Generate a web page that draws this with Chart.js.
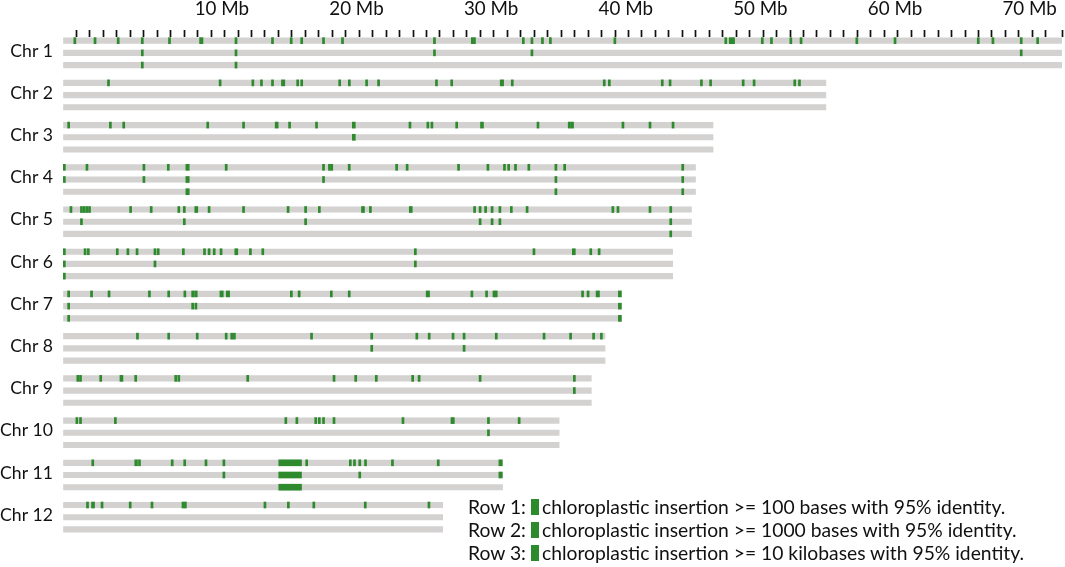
<!DOCTYPE html>
<html lang="en">

<head>
    <meta charset="UTF-8">
    <title>Chloroplastic insertions</title>
    <script src="https://cdn.jsdelivr.net/npm/chart.js"></script>
    <style>
        body { margin: 0; background: #fff; }
        #wrap { position: relative; width: 1065px; height: 567px; }
        .key { position: absolute; font: 19.3px Lato, sans-serif; color: #111; white-space: nowrap; line-height: 23px; }
        .box { position: absolute; width: 8px; height: 16px; background: #2d8a2d; }
    </style>
</head>

<body>
    <div id="wrap">
        <canvas id="genome"></canvas>
        <div id="legend"></div>
    </div>
    <script>
        const chrNames = ['Chr 1', 'Chr 2', 'Chr 3', 'Chr 4', 'Chr 5', 'Chr 6', 'Chr 7', 'Chr 8', 'Chr 9', 'Chr 10', 'Chr 11', 'Chr 12'];
        const chrLengths = [74.2, 56.66, 48.28, 46.98, 46.68, 45.28, 41.5, 40.26, 39.24, 36.85, 32.65, 28.2]; // Mb
        const rowNames = ['Row 1:', 'Row 2:', 'Row 3:'];
        const rowTexts = [
            'chloroplastic insertion >= 100 bases with 95% identity.',
            'chloroplastic insertion >= 1000 bases with 95% identity.',
            'chloroplastic insertion >= 10 kilobases with 95% identity.'
        ];

        // insertion positions in Mb; [pos, size] when the mark is wider than a hairline
        const row1 = [
            [0.88, 2.38, 4.10, 5.89, 7.91, [10.27, 0.25], 12.85, 15.56, 16.95, 17.73, 19.35, 20.76, 27.59, 30.40, 30.56, 34.19, 34.83, 35.61, 36.20, 40.99, 49.23, [49.68, 0.4], 51.94, 52.62, 54.06, 54.82, 58.96, 61.80, 67.98, 69.07, 71.17, 72.39],
            [3.38, 11.67, 14.10, 14.74, 15.56, [16.35, 0.25], 17.43, 17.73, 20.55, 21.27, 22.55, 23.44, 27.74, 28.87, [32.60, 0.25], 33.37, 40.20, 40.58, 44.51, 45.09, 47.42, 48.10, 50.52, 51.33, 54.35, 54.70],
            [0.42, 3.52, 4.51, 10.75, 13.41, [15.87, 0.22], 16.83, 18.83, [21.60, 0.22], 25.77, 27.10, 27.40, 29.24, [31.12, 0.22], 35.28, 37.60, [37.81, 0.22], 41.59, 43.60, 45.31],
            [0.1, 1.78, 6.01, 7.82, [9.25, 0.25], 12.12, 19.35, 19.79, 19.96, 21.26, 24.78, 25.56, 29.38, 31.56, 32.79, 33.10, 33.61, 34.60, 36.61, 37.26, 46.03],
            [0.59, 1.37, 1.57, 1.77, 1.97, 5.02, 6.55, 8.60, 9.01, [9.90, 0.22], 10.85, 13.41, 16.72, 18.02, 19.04, [22.28, 0.22], 22.83, [25.83, 0.22], 30.57, 30.98, 31.39, 31.87, 32.45, 33.30, 34.47, 40.84, 41.22, 43.60, 45.14],
            [0.1, 1.64, 1.88, 4.03, 4.82, 5.50, 6.83, 7.07, 8.94, 10.51, 10.85, 11.23, 11.74, [12.87, 0.22], 13.92, 14.84, 26.17, 34.98, [37.94, 0.22], 39.20, 39.82],
            [0.42, 2.12, 3.42, 6.42, 7.85, 9.05, 9.63, [9.87, 0.2], [11.78, 0.25], [12.25, 0.25], 16.96, 17.54, 19.93, 21.26, [27.10, 0.25], 30.37, 31.46, 32.01, 32.18, 38.59, 39.00, [39.72, 0.25], [41.36, 0.22]],
            [5.53, 7.85, 9.97, 12.12, 12.53, 12.73, 18.46, 22.93, 26.28, 27.20, 28.97, 29.79, 32.18, 35.73, 37.70, 39.41, 39.99],
            [1.10, 1.30, 2.80, [4.34, 0.22], 5.40, 8.37, 8.60, 13.72, 20.13, 21.74, 23.27, 25.97, 26.45, 30.98, 37.98],
            [1.03, 1.30, 3.89, 16.55, 17.37, 18.77, 19.04, 19.35, 20.13, 25.25, [28.94, 0.25], 31.60, 33.88],
            [2.21, [5.43, 0.2], 5.68, 8.11, 9.04, 10.62, 11.95, [16.87, 1.69], 18.10, 21.34, 21.65, 22.04, 22.47, 24.47, 27.87, [32.50, 0.25]],
            [1.82, [2.23, 0.22], 2.90, 4.99, 6.61, 8.91, 9.09, 15.00, 16.74, 18.63, 22.45, 27.18]
        ];
        const row2 = [
            [5.89, 12.85, 27.59, 34.83, 71.17],
            [],
            [[21.60, 0.22]],
            [0.1, 6.01, [9.25, 0.25], 19.35, 36.61, 46.03],
            [1.37, 9.01, 18.02, 30.98, 31.87, 32.45, 45.14],
            [0.1, 6.83, 26.17],
            [0.42, 9.63, 9.87, [41.36, 0.22]],
            [22.93, 29.79],
            [37.98],
            [31.60],
            [11.95, [16.87, 1.69], 22.04, [32.50, 0.25]],
            []
        ];
        const row3 = [
            [5.89, 12.85],
            [],
            [],
            [[9.25, 0.25], 36.61, 46.03],
            [45.14],
            [0.1],
            [0.42, [41.36, 0.22]],
            [],
            [],
            [],
            [[16.87, 1.69]],
            []
        ];
        const axisMax = 74.2;

        const CHR_STEP = 3.46; // one chromosome block = 3 rows + gap
        const rowY = (c, r) => c * CHR_STEP + r;

        const grey = [];
        const green = [];
        [row1, row2, row3].forEach((rows, r) => {
            chrLengths.forEach((len, c) => {
                grey.push({ x: [0, len], y: rowY(c, r) });
                rows[c].forEach(m => {
                    const p = Array.isArray(m) ? m[0] : m;
                    const w = Array.isArray(m) ? m[1] : 0.15;
                    green.push({ x: [Math.max(0, p - w / 2), p + w / 2], y: rowY(c, r) });
                });
            });
        });

        // legend lines under the short chromosomes
        const legend = document.getElementById('legend');
        rowNames.forEach((name, i) => {
            const top = 495 + i * 23;
            legend.insertAdjacentHTML('beforeend',
                '<div class="key" style="left:468px;top:' + top + 'px"></div>' +
                '<div class="box" style="left:531px;top:' + (top + 4) + 'px"></div>' +
                '<div class="key" style="left:542px;top:' + top + 'px"></div>');
            const keys = legend.querySelectorAll('.key');
            keys[keys.length - 2].textContent = name;
            keys[keys.length - 1].textContent = rowTexts[i];
        });

        // chromosome names next to the middle row of each block
        const chrLabels = {
            id: 'chrLabels',
            afterDraw(chart) {
                const c = chart.ctx;
                const y = chart.scales.y;
                c.save();
                c.font = '17.6px Lato';
                c.fillStyle = '#111';
                c.textAlign = 'right';
                c.textBaseline = 'middle';
                chrNames.forEach((name, i) => {
                    c.fillText(name, chart.chartArea.left - 10, y.getPixelForValue(rowY(i, 1)) - 2);
                });
                c.restore();
            }
        };

        const ctx = document.getElementById('genome').getContext('2d');
        new Chart(ctx, {
            type: 'bar',
            data: {
                datasets: [
                    { data: green, backgroundColor: '#2d8a2d', barThickness: 6, minBarLength: 2, grouped: false },
                    { data: grey, backgroundColor: '#d4d1d1', barThickness: 5.5, grouped: false }
                ]
            },
            options: {
                indexAxis: 'y',
                responsive: true,
                maintainAspectRatio: false,
                animation: false,
                layout: { padding: { top: 0, right: 3, bottom: 0, left: 63 } },
                plugins: { legend: { display: false }, tooltip: { enabled: false } },
                scales: {
                    x: {
                        type: 'linear',
                        position: 'top',
                        min: 0,
                        max: axisMax,
                        border: { display: false },
                        grid: {
                            drawOnChartArea: false,
                            tickLength: 7,
                            tickWidth: 1.7,
                            tickColor: c => (c.tick && c.tick.value === 0) ? 'rgba(0,0,0,0)' : '#111'
                        },
                        ticks: {
                            stepSize: 1,
                            autoSkip: false,
                            maxRotation: 0,
                            align: 'start',
                            labelOffset: -3,
                            padding: 10,
                            color: '#111',
                            font: { family: 'Lato', size: 18.8 },
                            callback: v => (v > 0 && v % 10 === 0) ? v + ' Mb' : ''
                        },
                        afterFit: s => { s.height = 37; s.paddingLeft = 0; s.paddingRight = 0; }
                    },
                    y: {
                        type: 'linear',
                        display: false,
                        offset: false,
                        reverse: true,
                        min: -0.3,
                        max: 43.14
                    }
                }
            },
            plugins: [chrLabels]
        });
    </script>

</body>

</html>
